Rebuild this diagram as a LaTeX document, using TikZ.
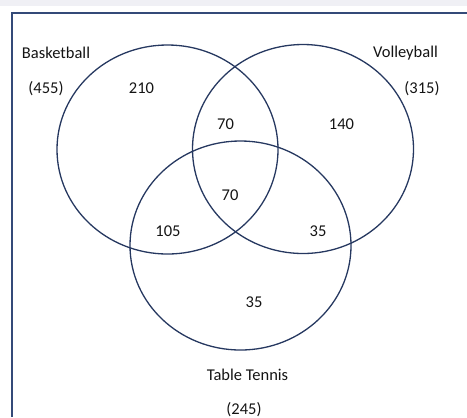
\documentclass[tikz,border=0pt]{standalone}
\usepackage{fontspec}
\setmainfont{Carlito}
\definecolor{navy}{RGB}{38,56,96}
\definecolor{framec}{RGB}{52,74,120}
\definecolor{band}{RGB}{240,240,245}
\definecolor{txt}{RGB}{20,20,20}
\begin{document}
\begin{tikzpicture}[x=1bp,y=-1bp,
  lbl/.style={anchor=base,inner sep=0pt,text=txt,font=\fontsize{16.5bp}{20bp}\selectfont},
  setc/.style={draw=navy,line width=1.3bp}]
\useasboundingbox (0,0) rectangle (467,417);
\fill[band] (0,0) rectangle (467,6);
\draw[framec,line width=1.8bp] (12,417) -- (12,13) -- (467,13);
\draw[setc] (167.5,149.5) ellipse [x radius=110.5bp, y radius=104.5bp];
\draw[setc] (303,149) ellipse [x radius=110.5bp, y radius=104.5bp];
\draw[setc] (240.5,245.5) ellipse [x radius=110.5bp, y radius=104.5bp];
\node[lbl] (bname) at (56,58) {Basketball};
\node[lbl] (btot) at (46,93.5) {(455)};
\node[lbl] (vname) at (405.5,57.5) {Volleyball};
\node[lbl] (vtot) at (422,93.5) {(315)};
\node[lbl] (tname) at (247.5,380) {Table Tennis};
\node[lbl] (ttot) at (244,414.5) {(245)};
\node[lbl] (bonly) at (141.5,93.5) {210};
\node[lbl] (bv) at (225.5,129.3) {70};
\node[lbl] (vonly) at (341.5,129.3) {140};
\node[lbl] (bvt) at (230,200.7) {70};
\node[lbl] (bt) at (168,236) {105};
\node[lbl] (vt) at (318,236) {35};
\node[lbl] (tonly) at (254,307.3) {35};
\end{tikzpicture}
\end{document}
